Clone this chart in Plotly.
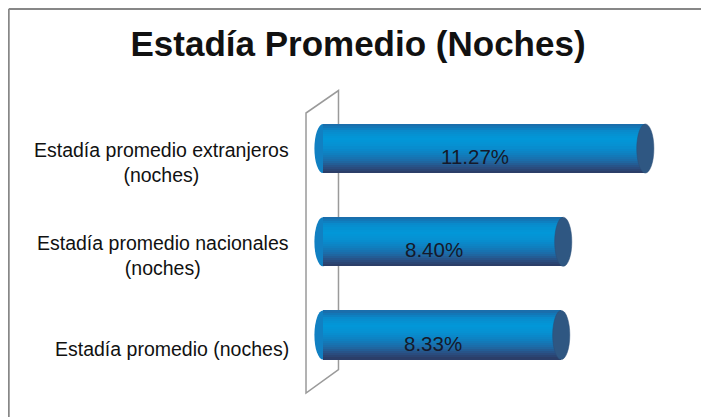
import plotly.graph_objects as go

# ---- data ----
categories = ["Estadía promedio (noches)",
              "Estadía promedio nacionales<br>(noches)",
              "Estadía promedio extranjeros<br>(noches)"]
values = [8.33, 8.40, 11.27]
value_labels = ["8.33%", "8.40%", "11.27%"]
title_text = "Estadía Promedio (Noches)"

# ---- styling ----
BAR_W = 0.526          # bar thickness in category units
CAP = 0.30             # half-width of the elliptical caps (x units)
# vertical gradient stops (fraction from bottom of bar, rgb)
stops = [
    (0.00, (43, 58, 98)),
    (0.12, (42, 79, 130)),
    (0.25, (29, 106, 166)),
    (0.40, (15, 128, 192)),
    (0.55, (6, 144, 210)),
    (0.70, (2, 152, 216)),
    (0.85, (9, 139, 204)),
    (0.94, (18, 118, 182)),
    (1.00, (31, 106, 166)),
]
N_BANDS = 24


def grad_color(f):
    for (f0, c0), (f1, c1) in zip(stops[:-1], stops[1:]):
        if f0 <= f <= f1:
            t = (f - f0) / (f1 - f0) if f1 > f0 else 0
            return "rgb(%d,%d,%d)" % tuple(round(a + (b - a) * t) for a, b in zip(c0, c1))
    return "rgb(%d,%d,%d)" % stops[-1][1]


ypos = list(range(len(categories)))

fig = go.Figure()
for k in range(N_BANDS):
    f0 = k / N_BANDS
    fig.add_trace(go.Bar(
        y=ypos, x=values, orientation="h",
        base=0,
        width=BAR_W * (1 - f0),
        offset=-BAR_W / 2 + BAR_W * f0,
        marker=dict(color=grad_color(f0 + 0.5 / N_BANDS), line=dict(width=0)),
        hoverinfo="skip", showlegend=False,
    ))

shapes = []
# back wall (3D chart wall)
wall_x = [-0.594, 0.542]
wall_top = [2.381, 2.622]
wall_bot = [-0.622, -0.370]
shapes.append(dict(
    type="path", xref="x", yref="y", layer="below",
    path=(f"M {wall_x[0]},{wall_bot[0]} L {wall_x[0]},{wall_top[0]} "
          f"L {wall_x[1]},{wall_top[1]} L {wall_x[1]},{wall_bot[1]} Z"),
    line=dict(color="#9a9a9a", width=1.5), fillcolor="rgba(0,0,0,0)"))

for yi, v in zip(ypos, values):
    # left rounded end
    shapes.append(dict(type="circle", xref="x", yref="y", layer="below",
                       x0=-CAP, x1=CAP, y0=yi - BAR_W / 2, y1=yi + BAR_W / 2,
                       fillcolor="#1180c2", line=dict(width=0)))
    # right end cap
    shapes.append(dict(type="circle", xref="x", yref="y", layer="above",
                       x0=v - CAP, x1=v + CAP, y0=yi - BAR_W / 2, y1=yi + BAR_W / 2,
                       fillcolor="#2f5782", line=dict(color="#2b4f78", width=0.5)))

# outer chart frame (top and left edges visible)
FRAME_X = -0.7139
FRAME_Y = 1.2219
shapes.append(dict(type="line", xref="paper", yref="paper",
                   x0=FRAME_X, x1=1.06, y0=FRAME_Y, y1=FRAME_Y,
                   line=dict(color="#878787", width=2)))
shapes.append(dict(type="line", xref="paper", yref="paper",
                   x0=FRAME_X, x1=FRAME_X, y0=FRAME_Y, y1=-0.1,
                   line=dict(color="#878787", width=2)))

annotations = []
for yi, cat in zip(ypos, categories):
    annotations.append(dict(
        x=-0.022, xref="paper", y=yi, yref="y", text=cat,
        xanchor="right", yanchor="middle", align="center", showarrow=False,
        yshift=-14,
        font=dict(family="Liberation Sans, Arial, sans-serif", size=19.5, color="#111111")))
for yi, v, lab in zip(ypos, values, value_labels):
    annotations.append(dict(
        x=v / 2, xref="x", y=yi, yref="y", text=lab,
        xanchor="center", yanchor="middle", showarrow=False,
        xshift=-9, yshift=-8,
        font=dict(family="Liberation Sans, Arial, sans-serif", size=20.5, color="#15192a")))

fig.update_layout(
    width=709, height=417,
    margin=dict(l=292, r=9, t=72, b=25),
    paper_bgcolor="white", plot_bgcolor="white",
    barmode="overlay", bargap=0,
    title=dict(text=f"<b>{title_text}</b>", x=0.4937, xref="container",
               y=1 - 36 / 417, yref="container", xanchor="center", yanchor="middle",
               font=dict(family="Liberation Sans, Arial, sans-serif",
                         size=35, color="#111111")),
    xaxis=dict(range=[-0.804, 13.462], visible=False, fixedrange=True),
    yaxis=dict(range=[-0.697, 2.735], visible=False, fixedrange=True),
    shapes=shapes, annotations=annotations,
    showlegend=False,
)

fig.write_html("out.html")
